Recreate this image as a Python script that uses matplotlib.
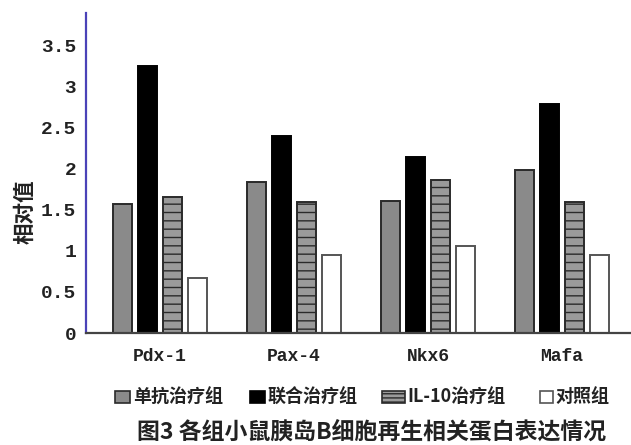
import matplotlib
matplotlib.use("Agg")
import matplotlib.pyplot as plt
from matplotlib.patches import Rectangle
import numpy as np

plt.rcParams['font.family'] = ['Noto Sans CJK SC', 'DejaVu Sans']
plt.rcParams['hatch.linewidth'] = 1.0

# Data
genes = ["Pdx-1", "Pax-4", "Nkx6", "Mafa"]
groups = ["单抗治疗组", "联合治疗组", "IL-10治疗组", "对照组"]
antibody = [1.57, 1.84, 1.61, 1.98]
combined = [3.25, 2.39, 2.14, 2.78]
il10 = [1.65, 1.59, 1.86, 1.59]
control = [0.67, 0.95, 1.06, 0.95]
yticks = [0, 0.5, 1, 1.5, 2, 2.5, 3, 3.5]
ytick_labels = ["0", "0.5", "1", "1.5", "2", "2.5", "3", "3.5"]

W, H = 631, 445
fig = plt.figure(figsize=(W / 100, H / 100), dpi=100)
ax = fig.add_axes([86 / W, (H - 333) / H, (W - 86) / W, 320 / H])

styles = [
    dict(facecolor="#8a8a8a", edgecolor="#2a2a2a", hatch=None),
    dict(facecolor="#000000", edgecolor="#000000", hatch=None),
    dict(facecolor="#9a9a9a", edgecolor="#2a2a2a", hatch="--"),
    dict(facecolor="#ffffff", edgecolor="#555555", hatch=None),
]
series = [antibody, combined, il10, control]

x = np.arange(len(genes))
width = 0.142
offsets = [-0.28, -0.093, 0.093, 0.28]
for vals, st, off in zip(series, styles, offsets):
    ax.bar(x + off, vals, width, facecolor=st["facecolor"],
           edgecolor=st["edgecolor"], hatch=st["hatch"], linewidth=1.4)

ax.set_xlim(-0.552, 3.515)
ax.set_ylim(0, 3.89)

for s in ["top", "right"]:
    ax.spines[s].set_visible(False)
ax.spines["left"].set_color("#4a42b8")
ax.spines["left"].set_linewidth(1.6)
ax.spines["bottom"].set_color("#444444")
ax.spines["bottom"].set_linewidth(1.6)

ax.set_yticks(yticks)
ax.set_yticklabels(ytick_labels, family="Liberation Mono", fontweight="bold",
                   fontsize=14, color="#222222")
ax.set_xticks(x)
ax.set_xticklabels(genes, family="Liberation Mono", fontweight="bold",
                   fontsize=13, color="#222222")
ax.tick_params(axis="y", length=0, pad=7)
ax.tick_params(axis="x", length=0, pad=11)

fig.text(25 / W, 1 - 212 / H, "相对值", rotation=90, ha="center", va="center",
         fontsize=15.5, fontweight="bold", color="#222222")


# Legend row below the axis labels
def px(xp, yp):
    return xp / W, 1 - yp / H


legend_items = [
    (115, 15, 133),
    (250, 15, 268),
    (382, 23, 407),
    (540, 13, 555),
]
for (x0, w, tx), st, label in zip(legend_items, styles, groups):
    fx, fy = px(x0, 403)
    r = Rectangle((fx, fy), w / W, 12 / H, transform=fig.transFigure,
                  facecolor=st["facecolor"], edgecolor=st["edgecolor"],
                  hatch="----" if st["hatch"] else None, linewidth=1.2)
    fig.add_artist(r)
    tx_f, ty_f = px(tx, 397)
    fig.text(tx_f, ty_f, label, ha="left", va="center", fontsize=13,
             fontweight="bold", color="#222222")

cx, cy = px(372, 432)
fig.text(cx, cy, "图3 各组小鼠胰岛B细胞再生相关蛋白表达情况", ha="center",
         va="center", fontsize=16.5, fontweight="bold", color="#222222")

fig.savefig("out.png", dpi=100)
